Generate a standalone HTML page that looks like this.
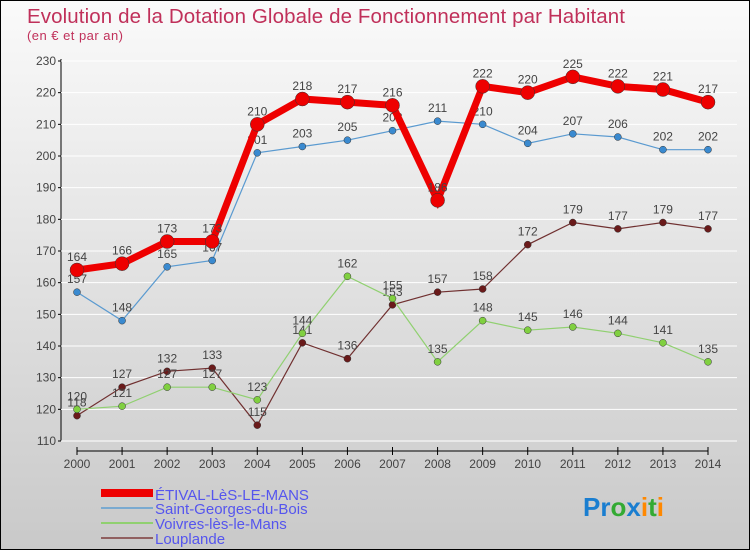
<!DOCTYPE html>
<html><head><meta charset="utf-8"><style>
body{margin:0}
#c{width:750px;height:550px;position:relative;background:linear-gradient(#fafafa,#c9c9c9);border:1px solid #000;box-sizing:border-box;font-family:"Liberation Sans",sans-serif;overflow:hidden}
</style></head><body>
<div id="c">
<svg id="s" width="750" height="550" style="position:absolute;left:0;top:0">
<text x="26" y="22" font-size="20.5" fill="#c0305a" textLength="598">Evolution de la Dotation Globale de Fonctionnement par Habitant</text>
<text x="26" y="39" font-size="13" fill="#c0305a" textLength="96">(en € et par an)</text>
<g id="g"></g>
<g font-size="15" fill="#5555ee">
<rect x="100" y="488" width="52" height="8" fill="#e00"/>
<text x="154" y="499">ÉTIVAL-LèS-LE-MANS</text>
<rect x="100" y="506" width="52" height="2" fill="#7aaad0"/>
<text x="154" y="513">Saint-Georges-du-Bois</text>
<rect x="100" y="521" width="52" height="2" fill="#90d070"/>
<text x="154" y="528">Voivres-lès-le-Mans</text>
<rect x="100" y="536" width="52" height="2" fill="#906060"/>
<text x="154" y="543">Louplande</text>
</g>
<text x="582" y="515" font-size="26" font-weight="bold"><tspan fill="#1a7ed0">Pr</tspan><tspan fill="#3a3">o</tspan><tspan fill="#1a7ed0">x</tspan><tspan fill="#f80">i</tspan><tspan fill="#3a3">t</tspan><tspan fill="#f80">i</tspan></text>
</svg>
<script>
const years=[2000,2001,2002,2003,2004,2005,2006,2007,2008,2009,2010,2011,2012,2013,2014];
const etival=[164,166,173,173,210,218,217,216,186,222,220,225,222,221,217];
const saintGeorges=[157,148,165,167,201,203,205,208,211,210,204,207,206,202,202];
const voivres=[120,121,127,127,123,144,162,155,135,148,145,146,144,141,135];
const louplande=[118,127,132,133,115,141,136,153,157,158,172,179,177,179,177];
const yTicks=[110,120,130,140,150,160,170,180,190,200,210,220,230];
const NS="http://www.w3.org/2000/svg";
const g=document.getElementById('g');
const xs=i=>76+i*(707-76)/14;
const ys=v=>440-(v-110)*(380/120);
function el(t,a){const e=document.createElementNS(NS,t);for(const k in a)e.setAttribute(k,a[k]);g.appendChild(e);return e;}
let ax=el('line',{x1:60,y1:58,x2:60,y2:440,stroke:'#000'});

let bx=el('line',{x1:76,y1:450,x2:707,y2:450,stroke:'#000'});

yTicks.forEach(v=>{
 const y=ys(v);
 el('line',{x1:60,y1:y,x2:736,y2:y,stroke:'#fff','stroke-width':1});
 el('line',{x1:57,y1:y,x2:60,y2:y,stroke:'#000'});
 const t=el('text',{x:55,y:y+4,'text-anchor':'end','font-size':12,fill:'#444'});t.textContent=v;
 
});
years.forEach((yr,i)=>{
 const x=xs(i);
 el('line',{x1:x,y1:446,x2:x,y2:454,stroke:'#000'});
 const t=el('text',{x:x,y:467,'text-anchor':'middle','font-size':12,fill:'#444'});t.textContent=yr;
 
});
function series(d,name,color,dot,w,r){
 const p=el('polyline',{points:d.map((v,i)=>xs(i)+','+ys(v)).join(' '),fill:'none',stroke:color,'stroke-width':w});
 
 d.forEach((v,i)=>{
  const c=el('circle',{cx:xs(i),cy:ys(v),r:r,fill:dot,stroke:'#333','stroke-width':0.5});
  
  const t=el('text',{x:xs(i),y:ys(v)-9,'text-anchor':'middle','font-size':12,fill:'#444'});t.textContent=v;
  
 });
}
series(louplande,'louplande','#703030','#6a1a1a',1.2,3.5);
series(voivres,'voivres','#90d070','#80d040',1.2,3.5);
series(saintGeorges,'saint-georges','#5a9ad0','#3a8ad0',1.2,3.5);
series(etival,'etival','#ee0000','#ee0000',7,7);
</script>
</div>
</body></html>
